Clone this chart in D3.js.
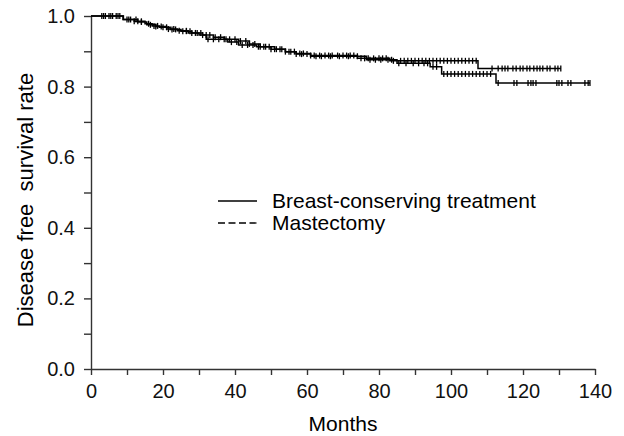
<!DOCTYPE html>
<html>
<head>
<meta charset="utf-8">
<script src="https://cdn.jsdelivr.net/npm/d3@7"></script>
<style>
  body { margin: 0; background: #fff; }
  svg { font-family: "Liberation Sans", Arial, sans-serif; }
</style>
</head>
<body>
<svg></svg>
<script>
const width = 624;
const height = 436;

// Kaplan-Meier steps: [month, survival after the event]
const bctSteps = [[0, 1.0], [8.9, 0.99], [12, 0.985], [15, 0.978], [17, 0.972], [19, 0.968],
  [22, 0.962], [25, 0.957], [28, 0.952], [31, 0.946], [34, 0.94], [37, 0.934], [41, 0.929],
  [44, 0.921], [47, 0.913], [51, 0.906], [54, 0.899], [57, 0.894], [61, 0.888], [74, 0.88],
  [83, 0.873], [107.5, 0.851]];
const bctEnd = 130.5;
const bctCensor = [3, 4, 5, 6, 7, 8, 10, 11, 12, 13, 14, 16, 17.5, 18.5, 20, 21, 22.5, 23.5, 25.5, 26.5,
  27.5, 29, 30.5, 32, 33, 34.5, 36, 37.5, 38.5, 40, 41.5, 43, 44, 45.5, 47, 48, 49.5, 51, 52.5, 54,
  55, 56.5, 58, 59, 61, 62, 63.5, 65, 66, 67, 68.5, 70, 71, 72, 73, 75, 76, 77, 78.5, 80, 81, 82,
  84, 86, 87, 88, 89, 90, 91, 92, 93, 94, 95, 96, 97, 98, 99, 100, 101, 102, 103, 104, 105, 106, 107,
  111.4, 113.1, 114.2, 115, 115.8, 117.2, 118.1, 119.2, 120, 121.1, 121.9, 123, 123.9, 124.7,
  125.5, 126.7, 127.5, 128.9, 129.7, 130.5];

const mastSteps = [[0, 1.0], [9, 0.99], [13, 0.983], [15.5, 0.975], [18, 0.97], [21, 0.963],
  [24, 0.958], [27, 0.952], [30, 0.946], [32, 0.934], [38, 0.926], [41, 0.918], [46, 0.913],
  [50, 0.906], [54, 0.899], [57, 0.892], [61, 0.886], [76.5, 0.876], [85, 0.866], [94.2, 0.856],
  [97.4, 0.836], [112.5, 0.81]];
const mastEnd = 138.6;
const mastCensor = [3.5, 5.5, 7.5, 10.5, 12.5, 14, 16.5, 18, 19.5, 21.5, 23, 24.5, 26.5, 28, 29.5,
  31, 32.5, 34, 35.5, 37, 39, 40.5, 42, 43.5, 45, 46.5, 48.5, 50, 51.5, 53, 55.5, 57, 58.5, 60,
  62.5, 64, 66.5, 69, 71.5, 74, 77.5, 79, 80.5, 82.5, 83.5, 85.5, 87.5, 89.5, 91, 92.5, 93.5, 95, 96,
  98, 99, 100, 101, 102, 103, 104, 105, 106, 107, 108, 109, 110, 111,
  113.1, 117.5, 118.3, 121.4, 122.2, 122.8, 123.6, 129.4, 130, 130.8, 132.5, 133.3, 137.2, 138.1, 138.6];

const xTicks = [0, 20, 40, 60, 80, 100, 120, 140];
const yTicks = [0, 0.2, 0.4, 0.6, 0.8, 1.0];
const legendLabels = ["Breast-conserving treatment", "Mastectomy"];

const font = "Liberation Sans, Arial, sans-serif";

let svg = d3.select("svg")
  .attr("width", width)
  .attr("height", height);

let x = d3.scaleLinear().domain([0, 140]).range([91, 595]);
let y = d3.scaleLinear().domain([0, 1]).range([369, 16]);

// axes
let axisX = d3.axisBottom(x).tickValues(d3.range(0, 141, 10))
  .tickFormat(d => xTicks.includes(d) ? d : "").tickSize(6).tickSizeOuter(0).tickPadding(9);
let axisY = d3.axisLeft(y).tickValues(d3.range(0, 1.01, 0.1))
  .tickFormat(d => yTicks.some(t => Math.abs(t - d) < 1e-6) ? d3.format(".1f")(d) : "")
  .tickSize(7).tickSizeOuter(0).tickPadding(9);

let gx = svg.append("g").attr("transform", `translate(0, ${y(0)})`).call(axisX);
let gy = svg.append("g").attr("transform", `translate(${x(0)}, 0)`).call(axisY);
[gx, gy].forEach(g => {
  g.attr("font-family", font).attr("font-size", 20);
  g.selectAll("path, line").attr("stroke", "#333").attr("stroke-width", 1.4);
  g.selectAll("text").attr("fill", "#111");
});

svg.append("text")
  .attr("x", x(70)).attr("y", 431)
  .attr("text-anchor", "middle")
  .style("font-size", "21px")
  .text("Months");

svg.append("text")
  .attr("transform", "translate(33, 200) rotate(-90)")
  .attr("text-anchor", "middle")
  .style("font-size", "22px")
  .style("white-space", "pre")
  .attr("xml:space", "preserve")
  .text("Disease free  survival rate");

function survivalAt(steps, t) {
  let s = 1;
  steps.forEach(d => { if (d[0] <= t) s = d[1]; });
  return s;
}

function drawCurve(steps, end, censor, dash) {
  let pts = steps.concat([[end, steps[steps.length - 1][1]]]);
  let line = d3.line().x(d => x(d[0])).y(d => y(d[1])).curve(d3.curveStepAfter);
  svg.append("path")
    .datum(pts)
    .attr("d", line)
    .attr("fill", "none")
    .attr("stroke", "#000")
    .attr("stroke-width", 1.5)
    .attr("stroke-dasharray", dash);

  svg.selectAll(null)
    .data(censor)
    .enter()
    .append("line")
    .attr("x1", d => x(d)).attr("x2", d => x(d))
    .attr("y1", d => y(survivalAt(steps, d)) - 3)
    .attr("y2", d => y(survivalAt(steps, d)) + 3)
    .attr("stroke", "#000")
    .attr("stroke-width", 1.3);
}

drawCurve(bctSteps, bctEnd, bctCensor, null);
drawCurve(mastSteps, mastEnd, mastCensor, null);

// legend
let legend = svg.append("g");
legendLabels.forEach((label, i) => {
  let ly = 201 + i * 22;
  legend.append("line")
    .attr("x1", 218).attr("x2", 257)
    .attr("y1", ly).attr("y2", ly)
    .attr("stroke", "#000")
    .attr("stroke-width", 1.3)
    .attr("stroke-dasharray", i == 1 ? "7,3.5" : null);
  legend.append("text")
    .attr("x", 272).attr("y", ly + 7)
    .style("font-size", "21px")
    .text(label);
});
</script>
</body>
</html>
